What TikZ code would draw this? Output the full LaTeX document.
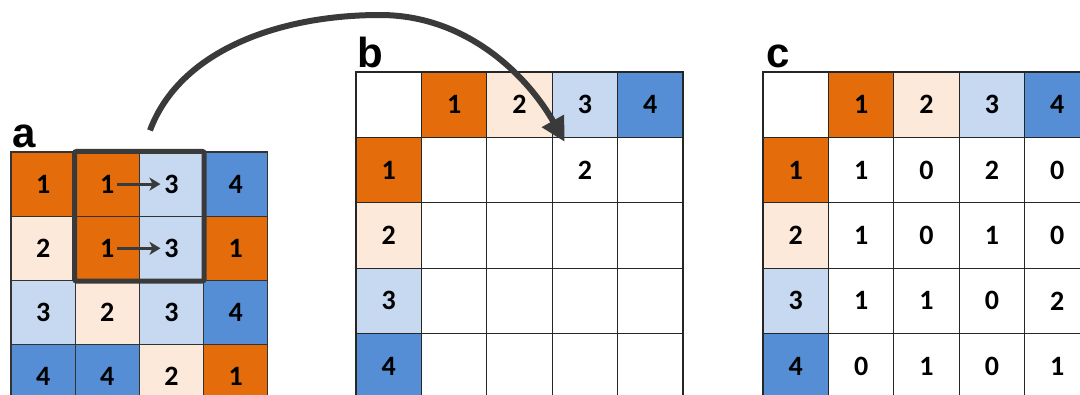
\documentclass[tikz,border=0pt]{standalone}
\usepackage{fontspec}
\setmainfont{Carlito}
\newfontfamily\labfont{Liberation Sans}
\usepackage{xcolor}
\usepackage{tikz}
\usetikzlibrary{arrows.meta,positioning,calc}

\definecolor{orng}{HTML}{E46C0A}
\definecolor{peach}{HTML}{FDE9D9}
\definecolor{lblue}{HTML}{C6D9F1}
\definecolor{mblue}{HTML}{558ED5}
\definecolor{arrowgray}{HTML}{3A3A3A}

\begin{document}
\begin{tikzpicture}[
  x=1pt, y=-1pt,
  font=\fontsize{28}{28}\selectfont\bfseries,
  cella/.style={draw=black!80, line width=1.2pt, minimum size=64.2pt, inner sep=0pt},
  cellb/.style={draw=black!85, line width=1.2pt, minimum size=65.4pt, inner sep=0pt},
  cl1/.style={fill=orng},
  cl2/.style={fill=peach},
  cl3/.style={fill=lblue},
  cl4/.style={fill=mblue},
  panel/.style={font=\labfont\fontsize{42}{42}\selectfont\bfseries, inner sep=0pt, anchor=base west},
  move/.style={-{Stealth[length=11pt,width=13pt,inset=3pt]}, line width=3pt, arrowgray},
  jump/.style={-{Triangle[length=24pt,width=24pt]}, line width=6pt, arrowgray}
]
\useasboundingbox (0,0) rectangle (1080,394);
\clip (0,0) rectangle (1080,394);

% panel a
\node[panel] (la) at (12,147) {a};
\node[cella,cl1] (a11) at (43.1,184.1) {1}; \node[cella,cl1] (a12) at (107.3,184.1) {1}; \node[cella,cl3] (a13) at (171.5,184.1) {3}; \node[cella,cl4] (a14) at (235.7,184.1) {4};
\node[cella,cl2] (a21) at (43.1,248.3) {2}; \node[cella,cl1] (a22) at (107.3,248.3) {1}; \node[cella,cl3] (a23) at (171.5,248.3) {3}; \node[cella,cl1] (a24) at (235.7,248.3) {1};
\node[cella,cl3] (a31) at (43.1,312.5) {3}; \node[cella,cl2] (a32) at (107.3,312.5) {2}; \node[cella,cl3] (a33) at (171.5,312.5) {3}; \node[cella,cl4] (a34) at (235.7,312.5) {4};
\node[cella,cl4] (a41) at (43.1,376.7) {4}; \node[cella,cl4] (a42) at (107.3,376.7) {4}; \node[cella,cl2] (a43) at (171.5,376.7) {2}; \node[cella,cl1] (a44) at (235.7,376.7) {1};
\draw[line width=5pt, arrowgray, rounded corners=2pt] (a12.north west) rectangle (a23.south east);
\draw[move] ([xshift=10pt]a12.center) -- ([xshift=-11pt]a13.center);
\draw[move] ([xshift=10pt]a22.center) -- ([xshift=-11pt]a23.center);

% panel b
\node[panel] (lb) at (357,67) {b};
\node[cellb] (b00) at (388.7,104.7) {}; \node[cellb,cl1] (b01) at (454.1,104.7) {1}; \node[cellb,cl2] (b02) at (519.5,104.7) {2}; \node[cellb,cl3] (b03) at (584.9,104.7) {3}; \node[cellb,cl4] (b04) at (650.3,104.7) {4};
\node[cellb,cl1] (b10) at (388.7,170.1) {1}; \node[cellb] (b11) at (454.1,170.1) {}; \node[cellb] (b12) at (519.5,170.1) {}; \node[cellb] (b13) at (584.9,170.1) {2}; \node[cellb] (b14) at (650.3,170.1) {};
\node[cellb,cl2] (b20) at (388.7,235.5) {2}; \node[cellb] (b21) at (454.1,235.5) {}; \node[cellb] (b22) at (519.5,235.5) {}; \node[cellb] (b23) at (584.9,235.5) {}; \node[cellb] (b24) at (650.3,235.5) {};
\node[cellb,cl3] (b30) at (388.7,300.9) {3}; \node[cellb] (b31) at (454.1,300.9) {}; \node[cellb] (b32) at (519.5,300.9) {}; \node[cellb] (b33) at (584.9,300.9) {}; \node[cellb] (b34) at (650.3,300.9) {};
\node[cellb,cl4] (b40) at (388.7,366.3) {4}; \node[cellb] (b41) at (454.1,366.3) {}; \node[cellb] (b42) at (519.5,366.3) {}; \node[cellb] (b43) at (584.9,366.3) {}; \node[cellb] (b44) at (650.3,366.3) {};

% panel c
\node[panel] (lc) at (766,67) {c};
\node[cellb] (c00) at (795.7,104.7) {}; \node[cellb,cl1] (c01) at (861.1,104.7) {1}; \node[cellb,cl2] (c02) at (926.5,104.7) {2}; \node[cellb,cl3] (c03) at (991.9,104.7) {3}; \node[cellb,cl4] (c04) at (1057.3,104.7) {4};
\node[cellb,cl1] (c10) at (795.7,170.1) {1}; \node[cellb] (c11) at (861.1,170.1) {1}; \node[cellb] (c12) at (926.5,170.1) {0}; \node[cellb] (c13) at (991.9,170.1) {2}; \node[cellb] (c14) at (1057.3,170.1) {0};
\node[cellb,cl2] (c20) at (795.7,235.5) {2}; \node[cellb] (c21) at (861.1,235.5) {1}; \node[cellb] (c22) at (926.5,235.5) {0}; \node[cellb] (c23) at (991.9,235.5) {1}; \node[cellb] (c24) at (1057.3,235.5) {0};
\node[cellb,cl3] (c30) at (795.7,300.9) {3}; \node[cellb] (c31) at (861.1,300.9) {1}; \node[cellb] (c32) at (926.5,300.9) {1}; \node[cellb] (c33) at (991.9,300.9) {0}; \node[cellb] (c34) at (1057.3,300.9) {2};
\node[cellb,cl4] (c40) at (795.7,366.3) {4}; \node[cellb] (c41) at (861.1,366.3) {0}; \node[cellb] (c42) at (926.5,366.3) {1}; \node[cellb] (c43) at (991.9,366.3) {0}; \node[cellb] (c44) at (1057.3,366.3) {1};

% window of a counted into b
\coordinate (src) at ([xshift=10pt,yshift=21pt]a12.north east);
\coordinate (top) at (380,15);
\coordinate (dst) at ([shift={(13,5)}]b13.north west);
\draw[jump] (src) .. controls (180,50) and (280,15) .. (top) .. controls (470,15) and (530,80) .. (dst);
\end{tikzpicture}
\end{document}
